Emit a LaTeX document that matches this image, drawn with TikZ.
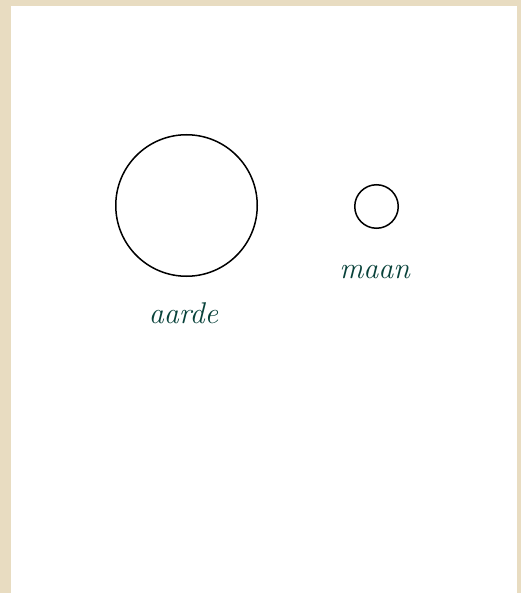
\documentclass[tikz,border=0pt]{standalone}
\usepackage{tikz}
\usetikzlibrary{positioning}

\definecolor{papier}{RGB}{232,220,193}
\definecolor{inkt}{RGB}{8,66,58}

\begin{document}
\begin{tikzpicture}[
  x=1pt, y=1pt,
  body/.style={draw, circle, line width=1.5pt, inner sep=0pt},
  lbl/.style={text=inkt, font=\fontsize{30}{34}\selectfont\itshape, inner sep=3pt}
]
  \useasboundingbox (0,0) rectangle (521,-593);
  \fill[papier] (0,0) rectangle (521,-593);
  \fill[white] (11,-6) rectangle (517,-593);

  \node[body, minimum size=141.5pt] (aarde) at (186.5,-205.5) {};
  \node[body, minimum size=43.5pt] (maan) at (376.5,-206.5) {};

  \node[lbl, below=22pt of aarde, xshift=-3pt] (aardetxt) {aarde};
  \node[lbl, below=33pt of maan, xshift=-2pt] (maantxt) {maan};
\end{tikzpicture}
\end{document}
